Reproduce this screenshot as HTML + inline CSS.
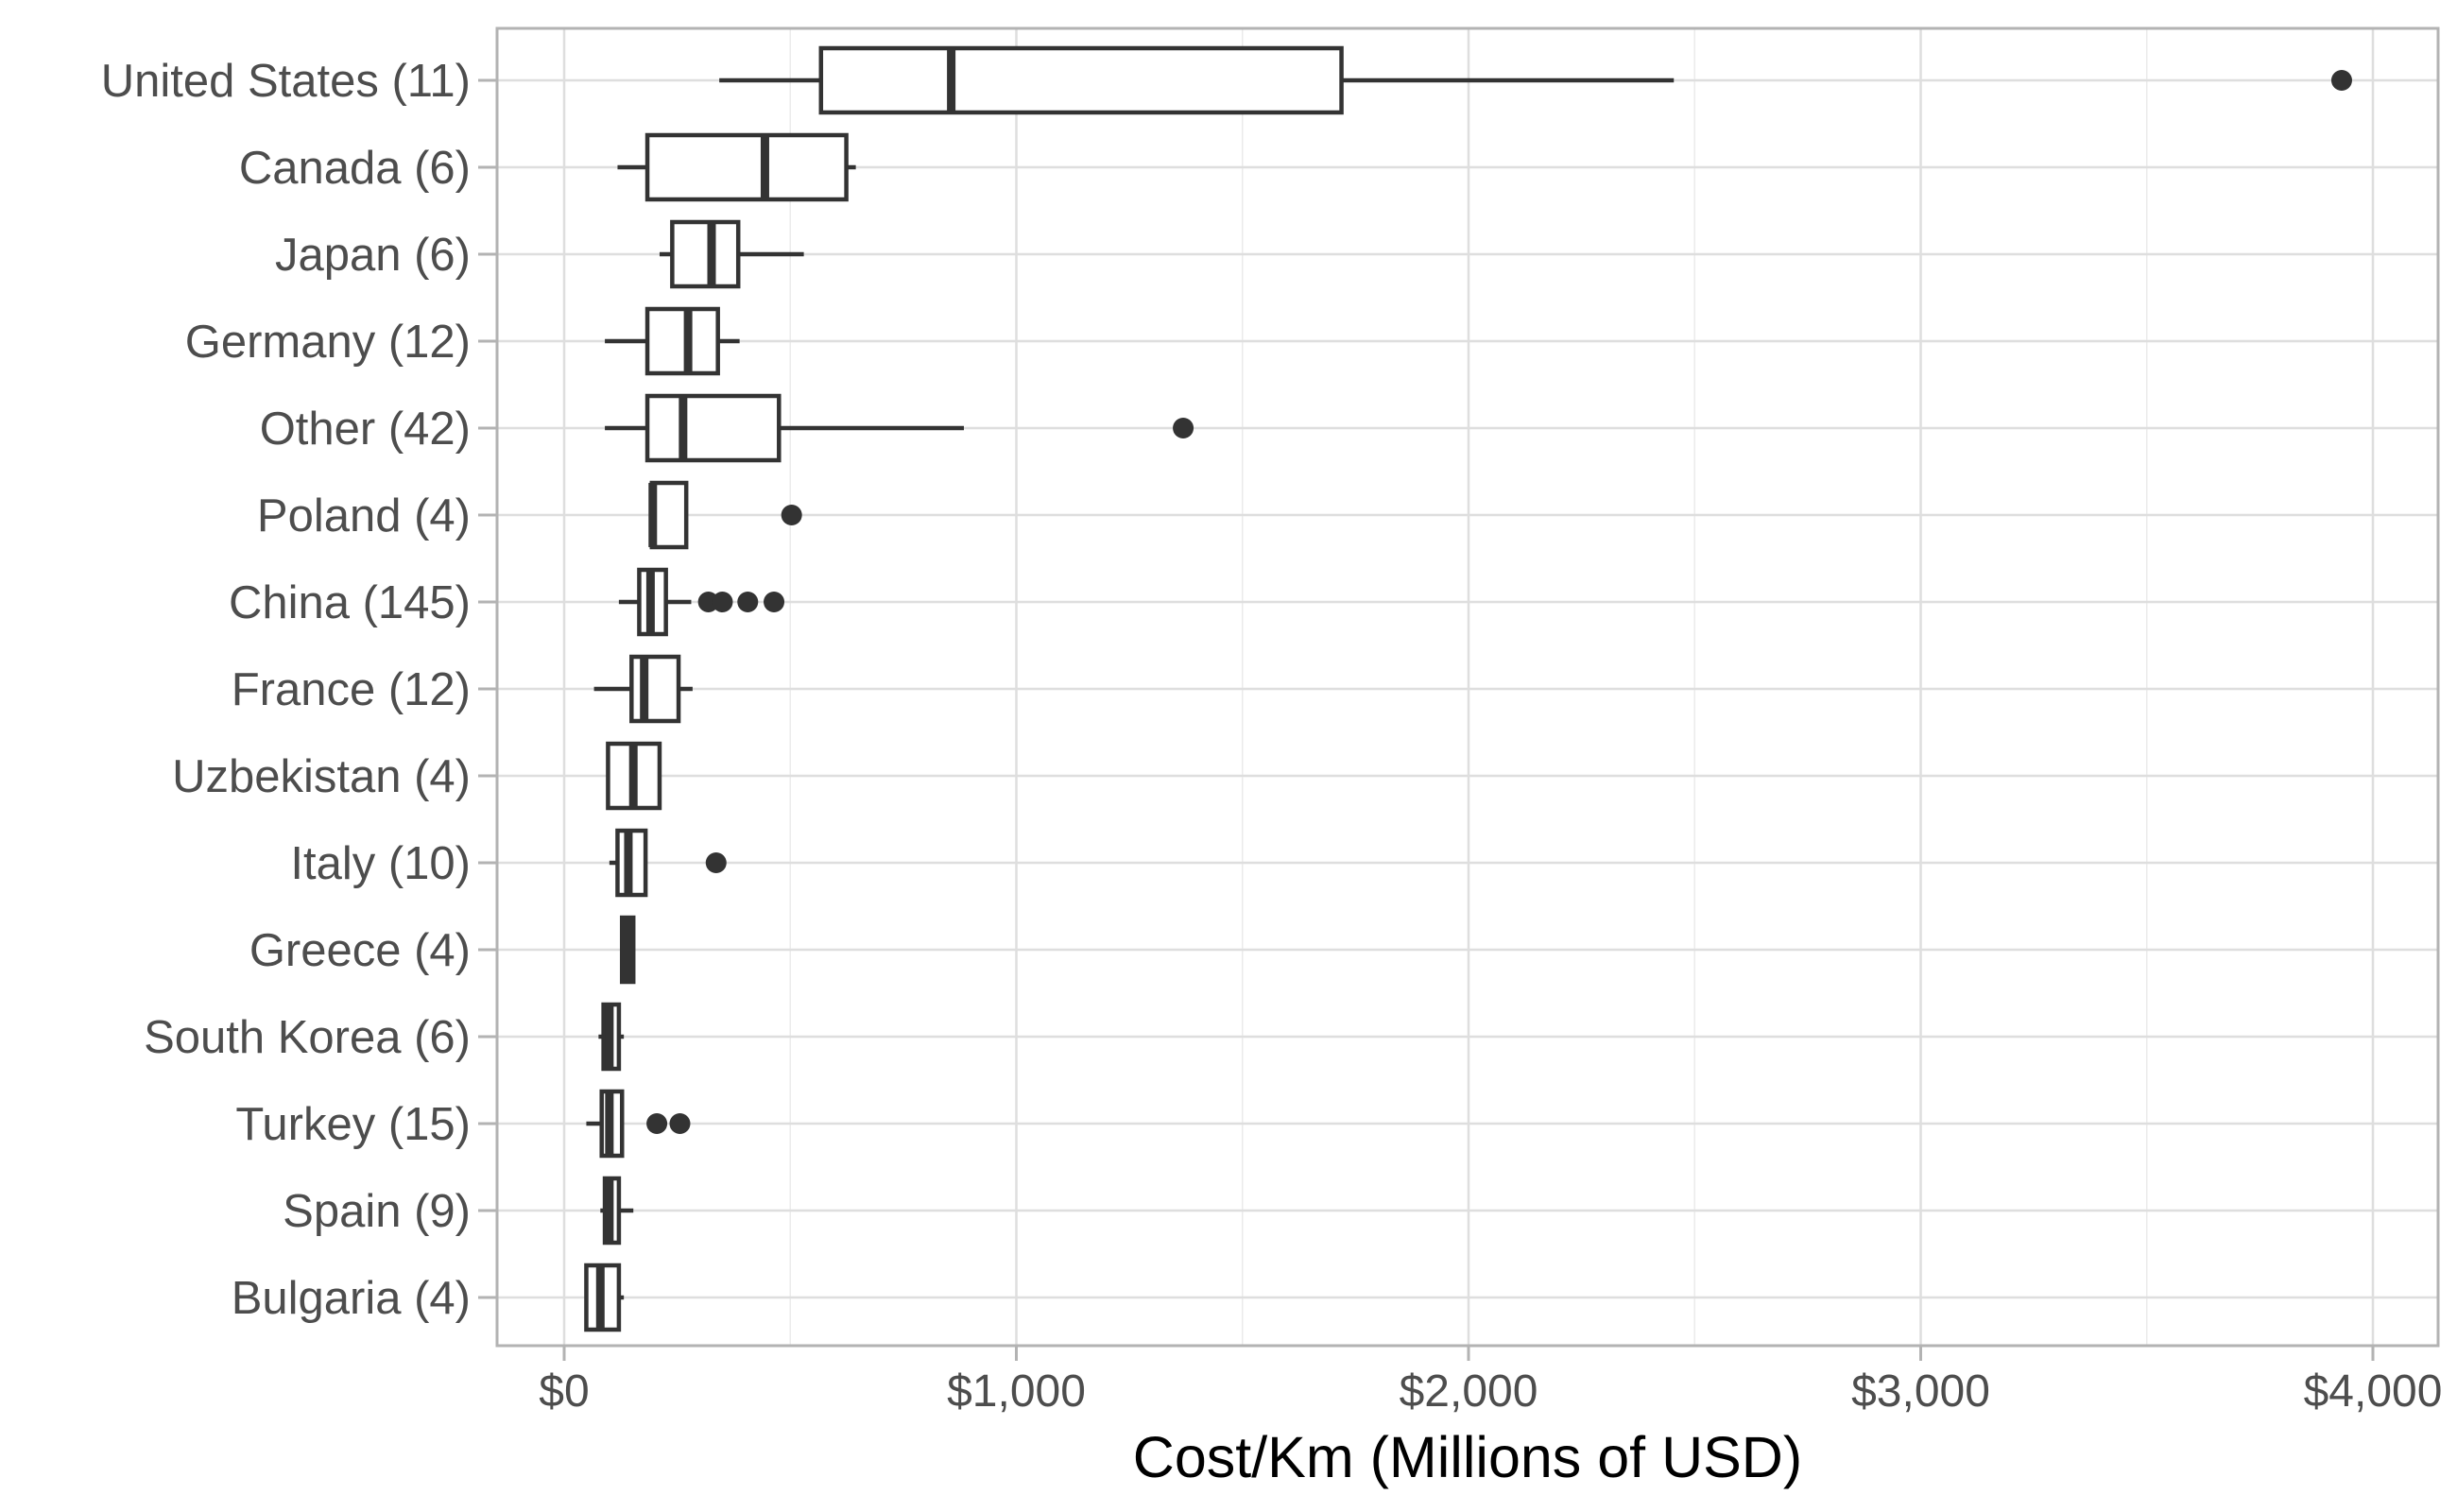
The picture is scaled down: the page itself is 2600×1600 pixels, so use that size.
<!DOCTYPE html>
<html><head><meta charset="utf-8"><style>
html,body{margin:0;padding:0;background:#fff;width:2600px;height:1600px;overflow:hidden}
svg text{font-family:"Liberation Sans",Arial,sans-serif}
</style></head><body>
<svg id="chart" width="2600" height="1600" xmlns="http://www.w3.org/2000/svg"></svg>
<script>
const categories=["United States (11)","Canada (6)","Japan (6)","Germany (12)","Other (42)","Poland (4)","China (145)","France (12)","Uzbekistan (4)","Italy (10)","Greece (4)","South Korea (6)","Turkey (15)","Spain (9)","Bulgaria (4)"];
const whiskerLow=[343,118,211,90,90,191,121,66,97,100,128,76,49,80,49];
const q1=[568,184,239,184,184,194,166,149,97,118,128,87,83,90,49];
const median=[856,444,326,274,263,196,191,177,153,142,139,100,100,100,80];
const q3=[1719,624,385,340,475,270,225,253,211,180,153,121,128,121,121];
const whiskerHigh=[2454,645,530,388,884,270,281,284,211,184,153,132,132,153,132];
const outliers=[[3931],[],[],[],[1369],[503],[319,350,406,464],[],[],[336],[],[],[205,256],[],[]];
const xTicks=[0,1000,2000,3000,4000];
const xTickLabels=["$0","$1,000","$2,000","$3,000","$4,000"];

const NS="http://www.w3.org/2000/svg";
const svg=document.getElementById("chart");
const L=526,R=2580,T=30,B=1424;
const x=v=>597+v*0.4785;
const y=i=>85+i*92.0;
function mk(tag,attrs,parent){const e=document.createElementNS(NS,tag);for(const k in attrs)e.setAttribute(k,attrs[k]);(parent||svg).appendChild(e);return e;}

const grid=mk("g",{});


xTicks.forEach((t,i)=>{
  if(i<xTicks.length-1){const m=mk("line",{x1:x(t+500),x2:x(t+500),y1:T,y2:B,stroke:"#ebebeb","stroke-width":1.5},grid);
  
  }
  const g=mk("line",{x1:x(t),x2:x(t),y1:T,y2:B,stroke:"#dedede","stroke-width":2.5},grid);
  
  
});
categories.forEach((c,i)=>{
  const g=mk("line",{x1:L,x2:R,y1:y(i),y2:y(i),stroke:"#dedede","stroke-width":2.5},grid);
  
  
});
const panel=mk("rect",{x:L,y:T,width:R-L,height:B-T,fill:"none",stroke:"#b3b3b3","stroke-width":3});



const col="#333333",hh=34;
categories.forEach((c,i)=>{
  const g=mk("g",{});
  
  
  const cy=y(i);
  mk("line",{x1:x(whiskerLow[i]),x2:x(q1[i]),y1:cy,y2:cy,stroke:col,"stroke-width":4.5},g);
  mk("line",{x1:x(q3[i]),x2:x(whiskerHigh[i]),y1:cy,y2:cy,stroke:col,"stroke-width":4.5},g);
  mk("rect",{x:x(q1[i]),y:cy-hh,width:Math.max(x(q3[i])-x(q1[i]),1),height:hh*2,fill:"#fff",stroke:col,"stroke-width":4.5},g);
  mk("line",{x1:x(median[i]),x2:x(median[i]),y1:cy-hh,y2:cy+hh,stroke:col,"stroke-width":9},g);
  outliers[i].forEach(o=>{
    const p=mk("circle",{cx:x(o),cy:cy,r:11,fill:col},g);
    
    
  });
  const tk=mk("line",{x1:L-20,x2:L,y1:cy,y2:cy,stroke:"#b3b3b3","stroke-width":3});
  
  
  const t=mk("text",{x:L-28,y:cy+17,"text-anchor":"end","font-size":49,fill:"#4d4d4d"});
  t.textContent=c;
  
  
});
xTicks.forEach((v,i)=>{
  const tk=mk("line",{x1:x(v),x2:x(v),y1:B,y2:B+16,stroke:"#b3b3b3","stroke-width":3});
  
  
  const t=mk("text",{x:x(v),y:1488,"text-anchor":"middle","font-size":48,fill:"#4d4d4d"});
  t.textContent=xTickLabels[i];
  
  
});
const title=mk("text",{x:1553,y:1563,"text-anchor":"middle","font-size":61,fill:"#000"});
title.textContent="Cost/Km (Millions of USD)";


</script>
</body></html>
